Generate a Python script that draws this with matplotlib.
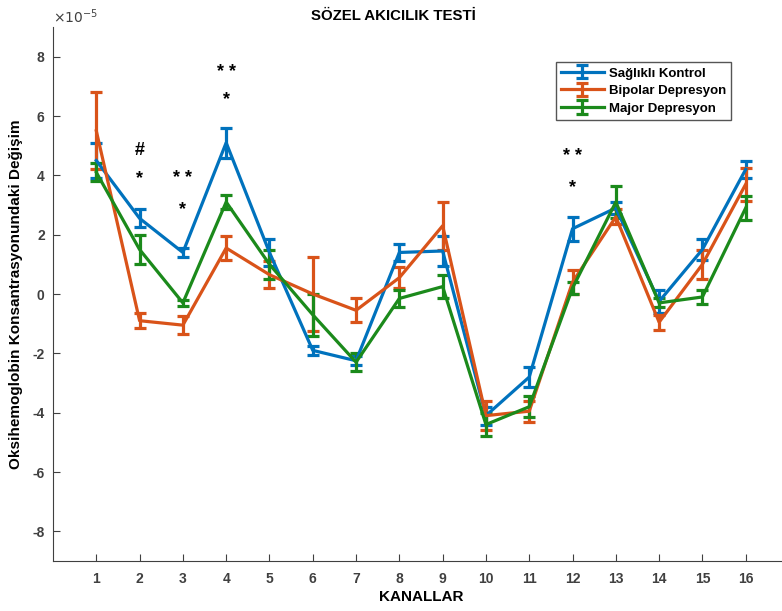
# -*- coding: utf-8 -*-

import numpy as np
import matplotlib.pyplot as plt

plt.rcParams['font.family'] = ['Liberation Sans', 'DejaVu Sans']
plt.rcParams['axes.unicode_minus'] = False

# Kanallar ve grup ortalamalari (x 1e-5)
kanallar = np.arange(1, 17)

saglikli = [4.5, 2.55, 1.4, 5.1, 1.4, -1.9, -2.25, 1.4, 1.45, -4.1, -2.8, 2.2, 2.9, -0.25, 1.5, 4.2]
saglikli_err = [0.6, 0.3, 0.15, 0.5, 0.45, 0.15, 0.15, 0.3, 0.5, 0.3, 0.35, 0.4, 0.2, 0.4, 0.35, 0.3]

bipolar = [5.5, -0.9, -1.05, 1.55, 0.65, 0.0, -0.55, 0.55, 2.3, -4.1, -3.95, 0.4, 2.6, -0.95, 1.0, 3.7]
bipolar_err = [1.3, 0.25, 0.3, 0.4, 0.45, 1.25, 0.4, 0.35, 0.8, 0.5, 0.35, 0.4, 0.25, 0.25, 0.5, 0.55]

major = [4.1, 1.5, -0.3, 3.1, 1.0, -0.7, -2.3, -0.15, 0.25, -4.4, -3.8, 0.2, 3.1, -0.3, -0.1, 2.9]
major_err = [0.3, 0.5, 0.1, 0.25, 0.5, 0.7, 0.3, 0.3, 0.4, 0.4, 0.35, 0.2, 0.55, 0.15, 0.25, 0.4]

# anlamlilik isaretleri: (kanal, y, metin)
isaretler = [(2, 4.85, '#'), (2, 3.9, '*'), (3, 3.9, '* *'), (3, 2.85, '*'),
             (4, 7.45, '* *'), (4, 6.55, '*'), (12, 4.65, '* *'), (12, 3.6, '*')]

fig = plt.figure(figsize=(7.82, 6.11), dpi=100)
ax = fig.add_axes([53 / 782, 50 / 611, 736 / 782, 534 / 611])

gri = '#404040'
for y, e, renk, etiket in [(saglikli, saglikli_err, '#0072BD', 'Sağlıklı Kontrol'),
                           (bipolar, bipolar_err, '#D95319', 'Bipolar Depresyon'),
                           (major, major_err, '#1B8A1B', 'Major Depresyon')]:
    ax.errorbar(kanallar, y, yerr=e, color=renk, lw=2.3, elinewidth=2.3,
                capsize=4.3, capthick=2.3, label=etiket)

for x, y, t in isaretler:
    ax.text(x, y, t, ha='center', va='center', fontsize=13, fontweight='bold')

ax.set_xlim(0, 17)
ax.set_ylim(-9, 9)
ax.set_xticks(kanallar)
ax.set_yticks(np.arange(-8, 9, 2))
ax.tick_params(direction='in', length=5, colors=gri, labelsize=10)
ax.tick_params(axis='x', pad=8)
ax.tick_params(axis='y', pad=6)
for lbl in ax.get_xticklabels() + ax.get_yticklabels():
    lbl.set_fontweight('bold')
ax.spines['top'].set_visible(False)
ax.spines['right'].set_visible(False)
ax.spines['left'].set_color(gri)
ax.spines['bottom'].set_color(gri)

ax.set_xlabel('KANALLAR', fontsize=11, fontweight='bold', labelpad=3)
ax.set_ylabel('Oksihemoglobin Konsantrasyonundaki Değişim', fontsize=11, fontweight='bold', labelpad=7)
fig.text(393 / 782, 1 - 16 / 611, 'SÖZEL AKICILIK TESTİ', ha='center', va='center', fontsize=10.8, fontweight='bold')
fig.text(53 / 782, 1 - 17 / 611, r'$\times10^{-5}$', ha='left', va='center', fontsize=10, color=gri)

leg = ax.legend(loc='upper left', bbox_to_anchor=(556 / 782, 1 - 62 / 611), bbox_transform=fig.transFigure,
                borderaxespad=0, fancybox=False, framealpha=1, edgecolor='#555555',
                prop={'weight': 'bold', 'size': 9.5},
                borderpad=0.4, labelspacing=0.4, handlelength=3.2, handletextpad=0.4)
leg.get_frame().set_linewidth(1.0)

fig.savefig('out.png', dpi=100)
